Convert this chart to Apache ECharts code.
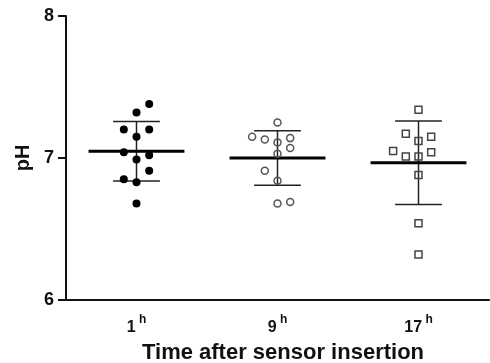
<!DOCTYPE html>
<html>
<head>
<meta charset="utf-8">
<script src="https://cdn.jsdelivr.net/npm/echarts@6/dist/echarts.min.js"></script>
<style>
  html, body { margin: 0; padding: 0; background: #fff; }
  #chart { width: 490px; height: 363px; }
</style>
</head>
<body>
<div id="chart"></div>
<script>
// ---- data ----
const categories = ['1', '9', '17'];
const yTicks = [6, 7, 8];

// pH values per group and their jitter column (-2..1) as plotted
const ph1h  = [7.38, 7.32, 7.20, 7.20, 7.15, 7.04, 7.02, 6.99, 6.91, 6.85, 6.83, 6.68];
const col1h = [1, 0, -1, 1, 0, -1, 1, 0, 1, -1, 0, 0];

const ph9h  = [7.25, 7.15, 7.13, 7.11, 7.14, 7.07, 7.03, 6.91, 6.84, 6.68, 6.69];
const col9h = [0, -2, -1, 0, 1, 1, 0, -1, 0, 0, 1];

const ph17h  = [7.34, 7.17, 7.15, 7.12, 7.05, 7.01, 7.01, 7.04, 6.88, 6.54, 6.32];
const col17h = [0, -1, 1, 0, -2, -1, 0, 1, 0, 0, 0];

// ---- build series ----
const JIT = 0.09;
function pts(vals, cols, g) {
  return vals.map((v, i) => [g + 1 + cols[i] * JIT, v]);
}
function stats(vals) {
  const n = vals.length;
  const m = vals.reduce((a, b) => a + b, 0) / n;
  const sd = Math.sqrt(vals.reduce((a, b) => a + (b - m) * (b - m), 0) / (n - 1));
  return [m, sd];
}
const groups = [ph1h, ph9h, ph17h];
const summary = groups.map((g, i) => { const s = stats(g); return [i + 1, s[0], s[1]]; });

const chart = echarts.init(document.getElementById('chart'), null, { renderer: 'canvas' });
const FONT = 'Liberation Sans, Arial, Helvetica, sans-serif';

const option = {
  backgroundColor: '#fff',
  animation: false,
  grid: { left: 66, right: 1, top: 16, bottom: 63, containLabel: false, outerBoundsMode: 'none' },
  xAxis: [
    {
      type: 'category',
      data: categories,
      boundaryGap: true,
      axisLine: { show: true, lineStyle: { color: '#111', width: 2 } },
      axisTick: { show: false },
      splitLine: { show: false },
      axisLabel: {
        margin: 14,
        formatter: v => '{n|' + v + '} {s|h}',
        rich: {
          n: { fontFamily: FONT, fontWeight: 'bold', fontSize: 16, color: '#111', lineHeight: 28 },
          s: { fontFamily: FONT, fontWeight: 'bold', fontSize: 12, color: '#111', verticalAlign: 'top', lineHeight: 12 }
        }
      },
      name: 'Time after sensor insertion',
      nameLocation: 'middle',
      nameGap: 42,
      nameMoveOverlap: false,
      nameTextStyle: { fontFamily: FONT, fontWeight: 'bold', fontSize: 22, color: '#111', padding: [0, 0, 0, 11] }
    },
    {
      type: 'value',
      min: 0.5,
      max: 3.5,
      show: false
    }
  ],
  yAxis: {
    type: 'value',
    min: yTicks[0],
    max: yTicks[yTicks.length - 1],
    interval: 1,
    axisLine: { show: true, lineStyle: { color: '#111', width: 2 } },
    axisTick: { show: true, length: 8, lineStyle: { color: '#111', width: 2 } },
    splitLine: { show: false },
    axisLabel: { margin: 12, fontFamily: FONT, fontWeight: 'bold', fontSize: 18, color: '#111' },
    name: 'pH',
    nameLocation: 'middle',
    nameRotate: 90,
    nameGap: 30,
    nameTextStyle: { fontFamily: FONT, fontWeight: 'bold', fontSize: 20, color: '#111' }
  },
  series: [
    {
      type: 'custom',
      xAxisIndex: 1,
      data: summary,
      z: 1,
      renderItem: (params, api) => {
        const x = api.value(0), m = api.value(1), s = api.value(2);
        const c = (xx, yy) => api.coord([xx, yy]);
        const a = c(x - 0.34, m), b = c(x + 0.34, m);
        const t1 = c(x - 0.166, m + s), t2 = c(x + 0.166, m + s);
        const b1 = c(x - 0.166, m - s), b2 = c(x + 0.166, m - s);
        const vt = c(x, m + s), vb = c(x, m - s);
        const thin = { stroke: '#222', lineWidth: 1.5 };
        return {
          type: 'group',
          children: [
            { type: 'line', shape: { x1: vt[0], y1: vt[1], x2: vb[0], y2: vb[1] }, style: thin },
            { type: 'line', shape: { x1: t1[0], y1: t1[1], x2: t2[0], y2: t2[1] }, style: thin },
            { type: 'line', shape: { x1: b1[0], y1: b1[1], x2: b2[0], y2: b2[1] }, style: thin },
            { type: 'line', shape: { x1: a[0], y1: a[1], x2: b[0], y2: b[1] }, style: { stroke: '#000', lineWidth: 3 } }
          ]
        };
      }
    },
    {
      type: 'scatter',
      xAxisIndex: 1,
      data: pts(ph1h, col1h, 0),
      symbol: 'circle',
      symbolSize: 8,
      itemStyle: { color: '#000', opacity: 1 },
      z: 3
    },
    {
      type: 'scatter',
      xAxisIndex: 1,
      data: pts(ph9h, col9h, 1),
      symbol: 'circle',
      symbolSize: 7,
      itemStyle: { color: 'rgba(255,255,255,0)', borderColor: '#555', borderWidth: 1.5, opacity: 1 },
      z: 3
    },
    {
      type: 'scatter',
      xAxisIndex: 1,
      data: pts(ph17h, col17h, 2),
      symbol: 'rect',
      symbolSize: 7,
      itemStyle: { color: 'rgba(255,255,255,0)', borderColor: '#444', borderWidth: 1.5, opacity: 1 },
      z: 3
    }
  ]
};
chart.setOption(option);
</script>
</body>
</html>
